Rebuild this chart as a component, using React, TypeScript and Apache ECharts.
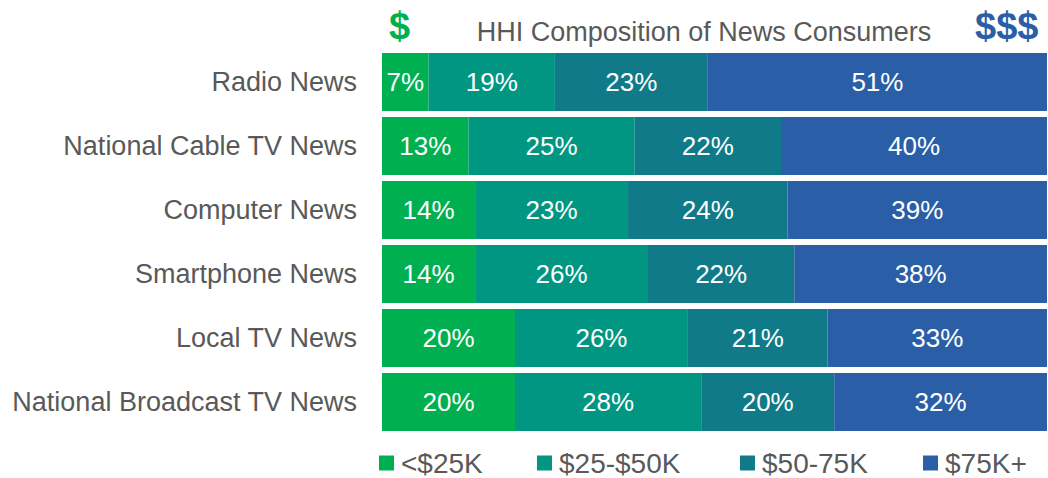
import React, { useEffect, useRef } from "react";
import * as echarts from "echarts";

const categories = [
  "Radio News",
  "National Cable TV News",
  "Computer News",
  "Smartphone News",
  "Local TV News",
  "National Broadcast TV News",
];
const seriesNames = ["<$25K", "$25-$50K", "$50-75K", "$75K+"];
const under25 = [7, 13, 14, 14, 20, 20];
const from25to50 = [19, 25, 23, 26, 26, 28];
const from50to75 = [23, 22, 24, 22, 21, 20];
const over75 = [51, 40, 39, 38, 33, 32];
const colors = ["#00B050", "#009681", "#107A88", "#2A5FA8"];
const legendLefts = [379, 537, 740, 923];

export default function App() {
  const ref = useRef<HTMLDivElement>(null);
  useEffect(() => {
    const chart = echarts.init(ref.current!, null, { renderer: "svg" });
    const values = [under25, from25to50, from50to75, over75];
    const font = "'Liberation Sans', Arial, sans-serif";
    chart.setOption({
      animation: false,
      textStyle: { fontFamily: font },
      grid: { left: 382, right: 1, top: 50, height: 384, containLabel: false },
      xAxis: { type: "value", min: 0, max: 100, show: false },
      yAxis: {
        type: "category",
        data: categories,
        inverse: true,
        axisLine: { show: false },
        axisTick: { show: false },
        axisLabel: { color: "#595959", fontSize: 27, margin: 25, fontFamily: font },
      },
      legend: seriesNames.map((n, i) => ({
        data: [n],
        left: legendLefts[i],
        top: 449,
        padding: 0,
        icon: "rect",
        itemWidth: 15,
        itemHeight: 15,
        textStyle: {
          color: "#595959",
          fontSize: 28,
          fontFamily: font,
          padding: [0, 0, 0, 2],
          lineHeight: 28,
        },
      })),
      title: {
        text: "HHI Composition of News Consumers",
        left: 704,
        textAlign: "center",
        top: 18,
        padding: 0,
        textStyle: { color: "#595959", fontSize: 27, fontWeight: "normal", fontFamily: font },
      },
      graphic: [
        {
          type: "text",
          left: 389,
          top: 7,
          style: { text: "$", fill: "#00B050", font: "bold 38px " + font },
        },
        {
          type: "text",
          left: 975,
          top: 7,
          style: { text: "$$$", fill: "#2A5FA8", font: "bold 38px " + font },
        },
      ],
      series: seriesNames.map((n, i) => ({
        name: n,
        type: "bar",
        stack: "total",
        data: values[i],
        barCategoryGap: "9.4%",
        itemStyle: { color: colors[i] },
        label: {
          show: true,
          position: "inside",
          formatter: "{c}%",
          color: "#FFFFFF",
          fontSize: 26,
          fontFamily: font,
        },
      })),
    });
    return () => chart.dispose();
  }, []);
  return (
    <div
      ref={ref}
      style={{ position: "fixed", left: 0, top: 0, width: 1048, height: 478, background: "#fff" }}
    />
  );
}
